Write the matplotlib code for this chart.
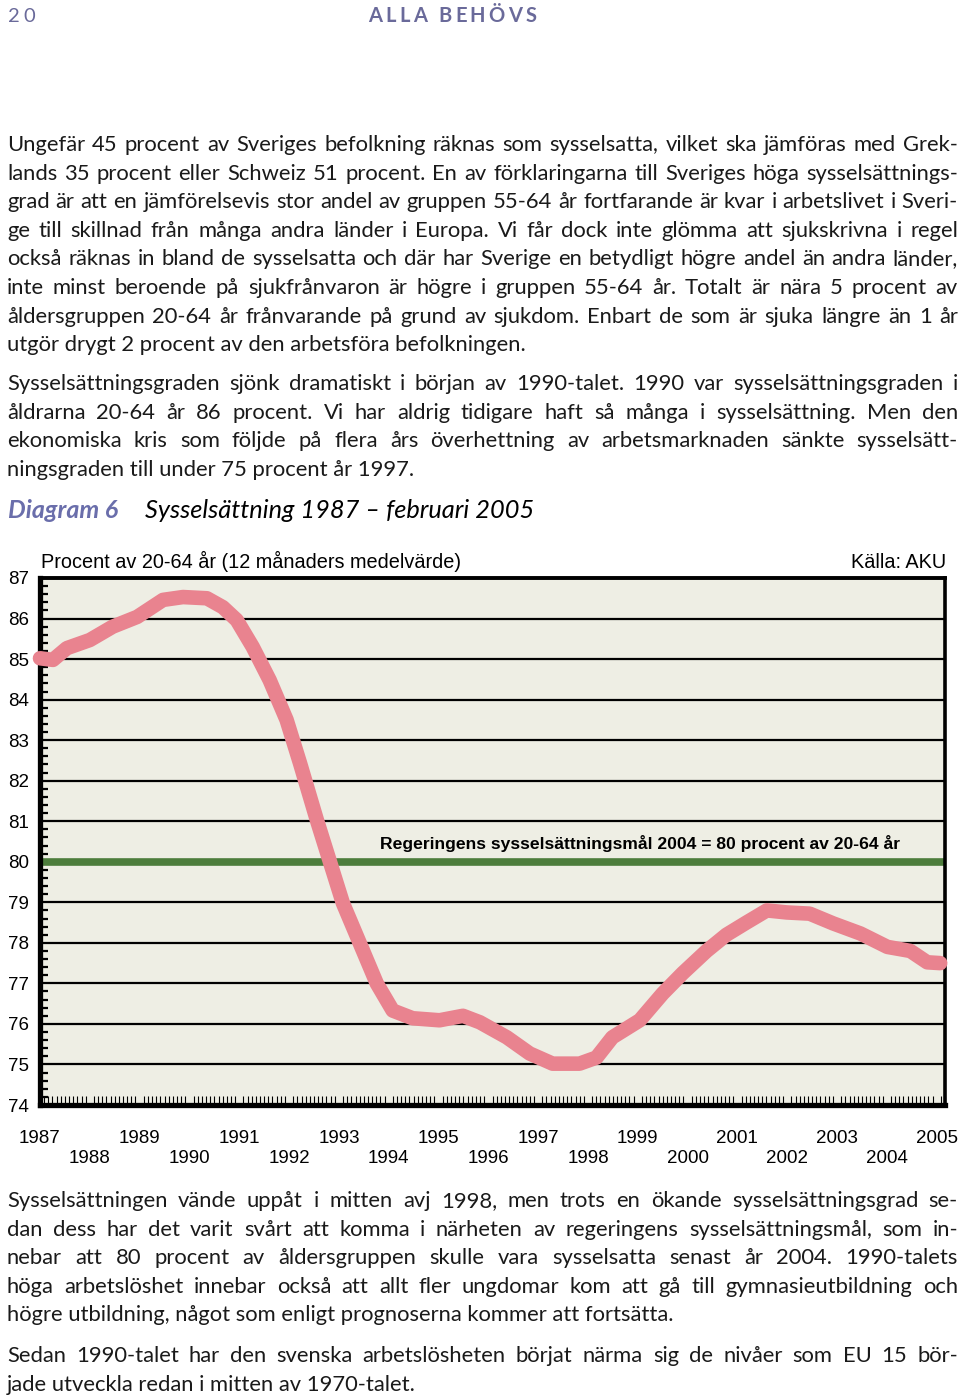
import matplotlib
matplotlib.use("Agg")
import matplotlib.pyplot as plt
from matplotlib.ticker import MultipleLocator

# page size in pixels
W, H = 960, 1400

# Sysselsättning 20-64 år, procent
years = [1987.00, 1987.26, 1987.54, 1988.00, 1988.46, 1988.95, 1989.47, 1989.87,
         1990.35, 1990.67, 1990.95, 1991.27, 1991.61, 1991.95, 1992.22, 1992.56,
         1992.82, 1993.08, 1993.42, 1993.76, 1994.08, 1994.48, 1995.02, 1995.49,
         1995.83, 1996.37, 1996.83, 1997.29, 1997.83, 1998.17, 1998.49, 1999.04,
         1999.50, 1999.90, 2000.38, 2000.78, 2001.18, 2001.59, 2001.99, 2002.45,
         2002.92, 2003.47, 2004.01, 2004.47, 2004.81, 2005.07]
values = [85.02, 84.98, 85.27, 85.47, 85.80, 86.04, 86.46, 86.53,
          86.50, 86.28, 85.96, 85.30, 84.48, 83.50, 82.43, 81.02,
          80.00, 78.98, 77.99, 77.00, 76.33, 76.14, 76.09, 76.20,
          76.04, 75.67, 75.27, 75.02, 75.02, 75.17, 75.67, 76.09,
          76.75, 77.25, 77.80, 78.20, 78.50, 78.80, 78.75, 78.72,
          78.48, 78.23, 77.90, 77.80, 77.52, 77.50]
goal = 80
year_ticks = list(range(1987, 2006))
y_ticks = list(range(74, 88))

para1 = [
    "Ungefär 45 procent av Sveriges befolkning räknas som sysselsatta, vilket ska jämföras med Grek-",
    "lands 35 procent eller Schweiz 51 procent. En av förklaringarna till Sveriges höga sysselsättnings-",
    "grad är att en jämförelsevis stor andel av gruppen 55-64 år fortfarande är kvar i arbetslivet i Sveri-",
    "ge till skillnad från många andra länder i Europa. Vi får dock inte glömma att sjukskrivna i regel",
    "också räknas in bland de sysselsatta och där har Sverige en betydligt högre andel än andra länder,",
    "inte minst beroende på sjukfrånvaron är högre i gruppen 55-64 år. Totalt är nära 5 procent av",
    "åldersgruppen 20-64 år frånvarande på grund av sjukdom. Enbart de som är sjuka längre än 1 år",
    "utgör drygt 2 procent av den arbetsföra befolkningen.",
]
para2 = [
    "Sysselsättningsgraden sjönk dramatiskt i början av 1990-talet. 1990 var sysselsättningsgraden i",
    "åldrarna 20-64 år 86 procent. Vi har aldrig tidigare haft så många i sysselsättning. Men den",
    "ekonomiska kris som följde på flera års överhettning av arbetsmarknaden sänkte sysselsätt-",
    "ningsgraden till under 75 procent år 1997.",
]
para3 = [
    "Sysselsättningen vände uppåt i mitten avj 1998, men trots en ökande sysselsättningsgrad se-",
    "dan dess har det varit svårt att komma i närheten av regeringens sysselsättningsmål, som in-",
    "nebar att 80 procent av åldersgruppen skulle vara sysselsatta senast år 2004. 1990-talets",
    "höga arbetslöshet innebar också att allt fler ungdomar kom att gå till gymnasieutbildning och",
    "högre utbildning, något som enligt prognoserna kommer att fortsätta.",
]
para4 = [
    "Sedan 1990-talet har den svenska arbetslösheten börjat närma sig de nivåer som EU 15 bör-",
    "jade utveckla redan i mitten av 1970-talet.",
]

X0, X1 = 7, 958
LINE = 28.6
body = dict(fontsize=15.8, family="Lato", color="#1a1a1a")

fig = plt.figure(figsize=(W / 100, H / 100), dpi=100)
fig.patch.set_facecolor("white")
renderer = fig.canvas.get_renderer()


def text_width(s, **kw):
    t = fig.text(0, 0, s, **kw)
    w = t.get_window_extent(renderer).width
    t.remove()
    return w


def put_line(s, base, justify, **kw):
    if not justify:
        fig.text(X0 / W, 1 - base / H, s, va="baseline", **kw)
        return
    words = s.split(" ")
    widths = [text_width(w, **kw) for w in words]
    gap = (X1 - X0 - sum(widths)) / (len(words) - 1)
    x = X0
    for w, wd in zip(words, widths):
        fig.text(x / W, 1 - base / H, w, va="baseline", **kw)
        x += wd + gap


def put_paragraph(lines, first_base):
    for i, s in enumerate(lines):
        put_line(s, first_base + i * LINE, i < len(lines) - 1, **body)


def put_tracked(s, x, base, track, **kw):
    for ch in s:
        fig.text(x / W, 1 - base / H, ch, va="baseline", **kw)
        x += text_width(ch, **kw) + track


# sidhuvud
head = dict(fontsize=14.5, family="Lato", color="#6a6a9a")
put_tracked("20", 8, 22, 4, **head)
put_tracked("ALLA BEHÖVS", 368, 22, 3.3, fontweight="bold", **head)

put_paragraph(para1, 151)
put_paragraph(para2, 390)

# diagramrubrik
fig.text(8 / W, 1 - 518 / H, "Diagram 6", fontsize=18, family="Lato",
         fontweight="bold", style="italic", color="#6a6eab", va="baseline")
fig.text(145 / W, 1 - 518 / H, "Sysselsättning 1987 – februari 2005", fontsize=18.3,
         family="Lato", style="italic", color="black", va="baseline")

# diagram
ax = fig.add_axes([40 / W, 1 - 1105 / H, 905 / W, 527 / H])
ax.set_facecolor("#eeeee4")
ax.set_xlim(1987, 2005 + 2 / 12)
ax.set_ylim(74, 87)

for y in y_ticks:
    ax.axhline(y, color="black", lw=1.6, zorder=1)
ax.axhline(goal, color="#4d7d3c", lw=5.5, zorder=2)
ax.plot(years, values, color="#e9838f", lw=10.5, solid_capstyle="round",
        solid_joinstyle="round", zorder=4, clip_on=False)

ax.text((640 - 40) / 905, 80.45,
        "Regeringens sysselsättningsmål 2004 = 80 procent av 20-64 år",
        transform=ax.get_yaxis_transform(), ha="center", va="center", fontsize=12.6,
        family="Liberation Sans", fontweight="bold")

for side, lw in [("left", 3.8), ("bottom", 3.8), ("top", 2.8), ("right", 2.6)]:
    ax.spines[side].set_linewidth(lw)
    ax.spines[side].set_color("black")

ax.set_yticks(y_ticks)
ax.set_yticklabels([str(y) for y in y_ticks])
ax.yaxis.set_minor_locator(MultipleLocator(0.2))
ax.tick_params(axis="y", which="major", length=0, pad=8, labelsize=13.5)
ax.tick_params(axis="y", which="minor", direction="in", length=5.5, width=1.6)

ax.set_xticks(year_ticks)
ax.set_xticklabels([str(y) if y % 2 else "\n" + str(y) for y in year_ticks])
ax.xaxis.set_minor_locator(MultipleLocator(1 / 12))
ax.tick_params(axis="x", which="major", length=0, pad=18, labelsize=13.5)
ax.tick_params(axis="x", which="minor", direction="in", length=6.5, width=0.8)
for lab in ax.get_xticklabels() + ax.get_yticklabels():
    lab.set_family("Liberation Sans")

fig.text(41 / W, 1 - 568 / H, "Procent av 20-64 år (12 månaders medelvärde)",
         fontsize=14.3, family="Liberation Sans", va="baseline")
fig.text(946 / W, 1 - 568 / H, "Källa: AKU", fontsize=14.3, family="Liberation Sans",
         ha="right", va="baseline")

put_paragraph(para3, 1207)
put_paragraph(para4, 1362)

fig.savefig("out.png", dpi=100)
